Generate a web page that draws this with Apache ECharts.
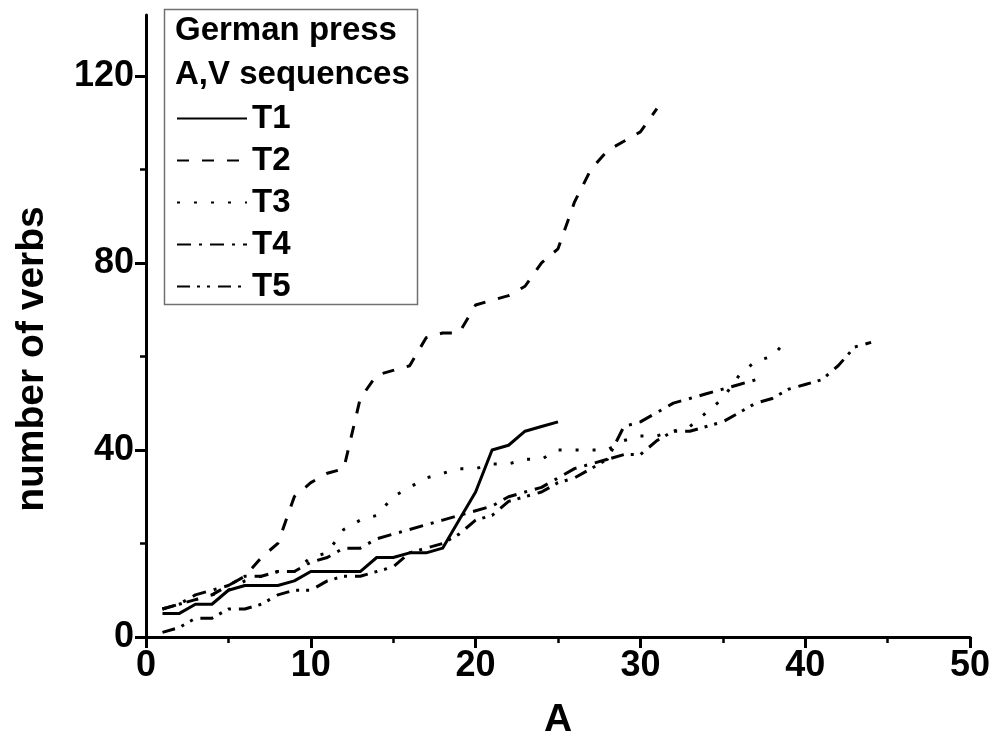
<!DOCTYPE html>
<html>
<head>
<meta charset="utf-8">
<script src="https://cdn.jsdelivr.net/npm/echarts@6/dist/echarts.min.js"></script>
<style>
  html, body { margin: 0; padding: 0; background: #fff; }
  #chart { width: 994px; height: 740px; }
</style>
</head>
<body>
<div id="chart"></div>
<script>
// A values (number of adjectives in the sequence)
const aValues = [1, 2, 3, 4, 5, 6, 7, 8, 9, 10, 11, 12, 13, 14, 15, 16, 17, 18, 19, 20, 21, 22,
  23, 24, 25, 26, 27, 28, 29, 30, 31, 32, 33, 34, 35, 36, 37, 38, 39, 40, 41, 42, 43, 44];

// cumulative number of verbs per text
const t1 = [5, 5, 7, 7, 10, 11, 11, 11, 12, 14, 14, 14, 14, 17, 17, 18, 18, 19, 25, 31, 40, 41, 44, 45, 46];
const t2 = [6, 7, 8, 9, 11, 13, 17, 20, 30, 33, 35, 36, 51, 56, 57, 58, 64, 65, 65, 71, 72, 73, 75, 80, 83,
  93, 100, 104, 106, 108, 113];
const t3 = [6, 7, 8, 9, 10, 12, 13, 14, 14, 17, 18, 23, 25, 26, 30, 32, 34, 35, 36, 36, 37, 37, 38, 38, 40,
  40, 40, 40, 42, 43, 43, 44, 45, 48, 51, 56, 59, 60, 64];
const t4 = [6, 7, 9, 10, 11, 13, 13, 14, 14, 16, 17, 19, 19, 21, 22, 23, 24, 25, 26, 27, 28, 30, 31, 32, 34,
  36, 37, 38, 45, 46, 48, 50, 51, 52, 53, 54, 55];
const t5 = [1, 2, 4, 4, 6, 6, 7, 9, 10, 10, 12, 13, 13, 14, 15, 18, 19, 20, 22, 25, 26, 29, 30, 31, 33,
  34, 36, 38, 39, 39, 42, 44, 44, 45, 46, 48, 50, 51, 53, 54, 55, 58, 62, 63];

const seriesNames = ['T1', 'T2', 'T3', 'T4', 'T5'];
const seriesValues = [t1, t2, t3, t4, t5];

// axis ticks
const xTicks = [0, 10, 20, 30, 40, 50];
const yLabelTicks = [0, 40, 80, 120];
const yMinorTicks = [20, 60, 100];

const FONT = '"Liberation Sans", Arial, sans-serif';
const dashStyles = [
  'solid',
  [12, 13],
  [3, 14],
  [14, 8, 3, 8],
  [13, 7, 3, 7, 3, 8]
];

const chart = echarts.init(document.getElementById('chart'), null, { renderer: 'canvas' });

const series = seriesNames.map((name, i) => ({
  name: name,
  type: 'line',
  xAxisIndex: 0,
  yAxisIndex: 0,
  symbol: 'none',
  showSymbol: false,
  animation: false,
  lineStyle: { color: '#000', width: 3, type: dashStyles[i], cap: 'butt', join: 'round' },
  itemStyle: { color: '#000', opacity: 0 },
  data: seriesValues[i].map((v, k) => [aValues[k], v])
}));

chart.setOption({
  animation: false,
  backgroundColor: '#fff',
  grid: { left: 146, right: 24, top: 15, bottom: 103, containLabel: false, outerBoundsMode: 'none' },
  title: {
    text: 'German press\nA,V sequences',
    left: 175,
    top: 9,
    padding: [0, 0, 0, 0],
    textStyle: { fontFamily: FONT, fontWeight: 'bold', fontSize: 33, lineHeight: 44, color: '#000' }
  },
  legend: {
    orient: 'vertical',
    left: 176,
    top: 102,
    padding: 0,
    itemWidth: 70,
    itemHeight: 20,
    itemGap: 9,
    data: seriesNames,
    itemStyle: { opacity: 0 },
    textStyle: { fontFamily: FONT, fontWeight: 'bold', fontSize: 33, lineHeight: 30, color: '#000' }
  },
  graphic: [{
    type: 'rect',
    left: 162,
    top: 7,
    shape: { width: 253, height: 295 },
    style: { fill: 'none', stroke: '#707070', lineWidth: 1.5 },
    z: 100
  }],
  xAxis: {
    type: 'value',
    min: 0,
    max: 50,
    interval: 10,
    name: 'A',
    nameLocation: 'middle',
    nameGap: 64,
    nameTextStyle: { fontFamily: FONT, fontWeight: 'bold', fontSize: 39, color: '#000' },
    axisLine: { onZero: false, lineStyle: { color: '#000', width: 3 } },
    axisTick: { show: true, length: 11, lineStyle: { color: '#000', width: 3 } },
    minorTick: { show: true, splitNumber: 2, length: 6, lineStyle: { color: '#000', width: 2.5 } },
    splitLine: { show: false },
    axisLabel: {
      fontFamily: FONT, fontWeight: 'bold', fontSize: 36, color: '#000', margin: 11,
      customValues: xTicks
    }
  },
  yAxis: [{
    type: 'value',
    min: 0,
    max: 133,
    interval: 20,
    name: 'number of verbs',
    nameLocation: 'middle',
    nameGap: 94,
    nameRotate: 90,
    nameTextStyle: { fontFamily: FONT, fontWeight: 'bold', fontSize: 39, color: '#000', padding: [0, 66, 0, 0] },
    axisLine: { onZero: false, lineStyle: { color: '#000', width: 3 } },
    axisTick: { show: true, length: 11, lineStyle: { color: '#000', width: 3 }, customValues: yLabelTicks },
    splitLine: { show: false },
    axisLabel: {
      fontFamily: FONT, fontWeight: 'bold', fontSize: 36, color: '#000', margin: 12,
      customValues: yLabelTicks
    }
  }, {
    type: 'value',
    min: 0,
    max: 133,
    interval: 20,
    position: 'left',
    axisLine: { show: false },
    axisTick: { show: true, length: 6, lineStyle: { color: '#000', width: 2.5 }, customValues: yMinorTicks },
    axisLabel: { show: false },
    splitLine: { show: false }
  }],
  series: series
});
</script>
</body>
</html>
